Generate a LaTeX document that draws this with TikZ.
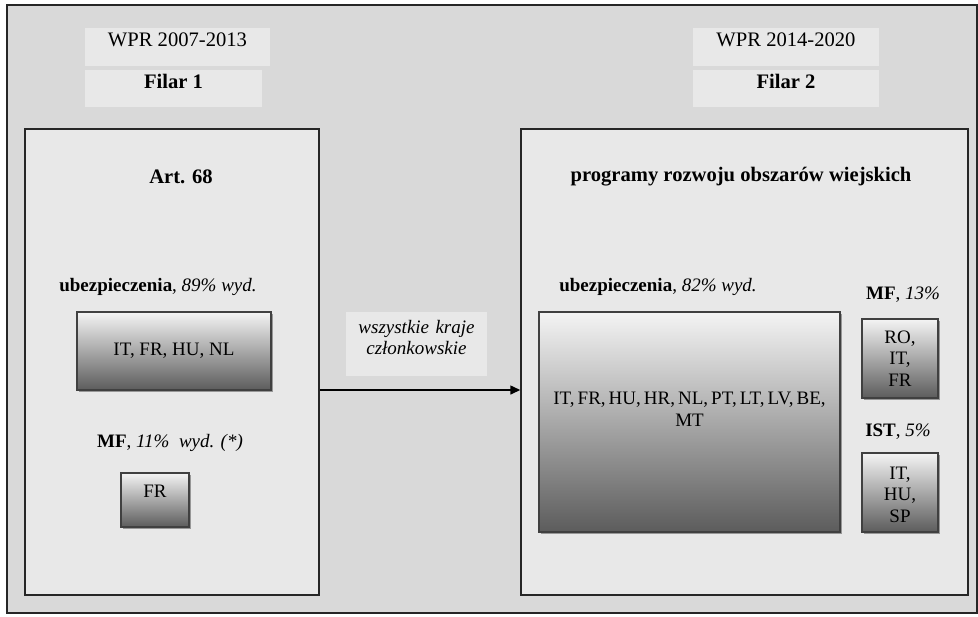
\documentclass[tikz,border=0pt]{standalone}
\usepackage{fontspec}
\setmainfont{Liberation Serif}
\usetikzlibrary{fit,shadows,arrows.meta}
\definecolor{bggray}{HTML}{D9D9D9}
\definecolor{panelgray}{HTML}{E8E8E8}
\definecolor{shadetop}{HTML}{F4F4F4}
\definecolor{shadebot}{HTML}{5C5C5C}
\definecolor{edgegray}{HTML}{404040}
\tikzset{
  panel/.style={draw=black!85, line width=0.75pt, fill=panelgray, inner sep=0pt},
  tag/.style={fill=panelgray, inner sep=0pt},
  gradbox/.style={draw=edgegray, line width=0.6pt, inner sep=0pt,
    top color=shadetop, bottom color=shadebot,
    drop shadow={shadow xshift=1pt, shadow yshift=-1pt, opacity=0.35, fill=black}},
  txt/.style={inner sep=0pt, align=center},
  small/.style={font=\fontsize{9.5}{10.8}\selectfont},
}
\begin{document}
\begin{tikzpicture}[x=0.5pt, y=-0.5pt, font=\fontsize{10.3}{11}\selectfont]
\useasboundingbox (0,0) rectangle (978,616);
\fill[white] (0,0) rectangle (978,616);
% frame of the whole figure
\node[fit={(7,5) (977,613)}, draw=black!85, line width=0.75pt, fill=bggray, inner sep=0pt] (frame) {};

% period and pillar headers
\node[tag, fit={(85,28) (270,66)}] (per1) {WPR 2007-2013};
\node[tag, fit={(85,70) (262,107)}] (fil1) {\textbf{Filar 1}};
\node[tag, fit={(693,28) (879,66)}] (per2) {WPR 2014-2020};
\node[tag, fit={(693,70) (879,107)}] (fil2) {\textbf{Filar 2}};

% pillar panels
\node[panel, fit={(25,129) (319,595)}] (left) {};
\node[panel, fit={(521,129) (968,595)}] (right) {};

% left panel contents
\node[txt] (art) at (181,177) {\textbf{Art. 68}};
\node[txt, small] (ubl) at (158,287) {\textbf{ubezpieczenia}, \textit{89\% wyd.}};
\node[gradbox, fit={(77,312) (271,390)}] (ubbox) {};
\node[txt, small] at (ubbox.center) {IT, FR, HU, NL};
\node[txt, small] (mfl) at (170,443) {\textbf{MF}, \textit{11\%\ \ wyd. (*)}};
\node[gradbox, fit={(121,473) (189,527)}] (frbox) {};
\node[txt, small] (frtxt) at (155,491) {FR};

% transition between pillars
\node[tag, small, fit={(346,312) (487,376)}, align=center] (all) {\textit{wszystkie kraje}\\\textit{członkowskie}};
\draw[line width=0.75pt, -{Triangle[length=5pt,width=4.5pt]}] (left.east |- 0,390) -- (right.west |- 0,390);

% right panel contents
\node[txt] (prow) at (741,177) {\textbf{programy rozwoju obszarów wiejskich}};
\node[txt, small] (ubr) at (658,287) {\textbf{ubezpieczenia}, \textit{82\% wyd.}};
\node[gradbox, fit={(539,312) (840,532)}] (bigbox) {};
\node[txt, small] (bigtxt) at (689.5,409) {\spaceskip=0.16em plus 0.05em\relax IT, FR, HU, HR, NL, PT, LT, LV, BE,\\MT};
\node[txt, small] (mfr) at (903,295) {\textbf{MF}, \textit{13\%}};
\node[gradbox, fit={(862,319) (938,398)}] (mfbox) {};
\node[txt, small] at (mfbox.center) {RO,\\IT,\\FR};
\node[txt, small] (istl) at (898,432) {\textbf{IST}, \textit{5\%}};
\node[gradbox, fit={(862,453) (938,532)}] (istbox) {};
\node[txt, small] at ([yshift=-1pt]istbox.center) {IT,\\HU,\\SP};
\end{tikzpicture}
\end{document}
